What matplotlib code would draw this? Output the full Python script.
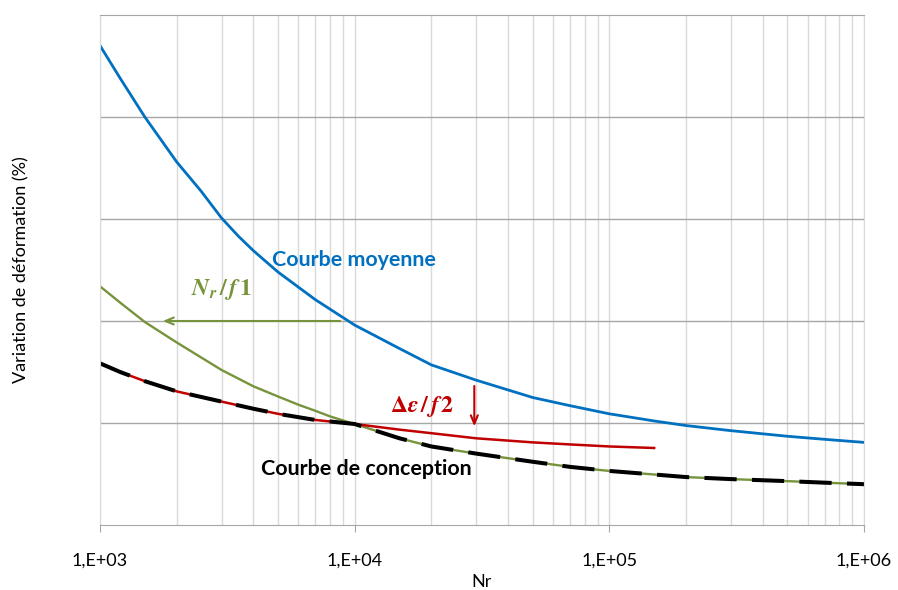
import numpy as np
import matplotlib.pyplot as plt
from matplotlib.ticker import FixedLocator, LogLocator, NullFormatter

plt.rcParams['font.family'] = ['Lato', 'DejaVu Sans']
plt.rcParams['mathtext.fontset'] = 'stix'

# Courbe moyenne
n_moy = [1e3, 1.2e3, 1.5e3, 2e3, 2.5e3, 3e3, 3.5e3, 4e3, 5e3, 7e3, 1e4, 1.5e4, 2e4, 3e4, 5e4, 7e4,
         1e5, 1.5e5, 2e5, 3e5, 5e5, 7e5, 1e6]
y_moy = [4.70, 4.38, 4.00, 3.56, 3.27, 3.01, 2.83, 2.69, 2.48, 2.21, 1.96, 1.73, 1.57, 1.42, 1.25, 1.17,
         1.09, 1.02, 0.975, 0.925, 0.87, 0.84, 0.81]

# Nr / f1
n_f1 = [1e3, 1.2e3, 1.5e3, 2e3, 3e3, 4e3, 5e3, 6e3, 7e3, 8e3, 9e3, 1e4, 1.5e4, 2e4, 3e4,
        5e4, 7e4, 1e5, 1.5e5, 2e5, 3e5, 5e5, 7e5, 1e6]
y_f1 = [2.34, 2.18, 1.99, 1.79, 1.52, 1.36, 1.26, 1.18, 1.12, 1.065, 1.025, 0.99, 0.85, 0.77, 0.70,
        0.62, 0.57, 0.53, 0.495, 0.47, 0.45, 0.43, 0.415, 0.40]

# delta eps / f2
n_f2 = [1e3, 1.2e3, 1.5e3, 2e3, 3e3, 4e3, 5e3, 7e3, 1e4, 1.5e4, 2e4, 3e4, 5e4, 7e4, 1e5, 1.5e5]
y_f2 = [1.585, 1.50, 1.41, 1.31, 1.21, 1.14, 1.09, 1.03, 0.99, 0.935, 0.90, 0.85, 0.81, 0.79, 0.77, 0.755]

# courbe de conception = min des deux
n_conc = [n for n in n_f2 if n <= 1e4] + [n for n in n_f1 if n > 1e4]
y_conc = [y for n, y in zip(n_f2, y_f2) if n <= 1e4] + [y for n, y in zip(n_f1, y_f1) if n > 1e4]

x_ticks = [1e3, 1e4, 1e5, 1e6]
x_labels = ['1,E+03', '1,E+04', '1,E+05', '1,E+06']

BLUE = '#0070C0'
GREEN = '#77933C'
RED = '#C00000'

fig = plt.figure(figsize=(8.98, 5.9), dpi=100)
ax = fig.add_axes([100 / 898, 65 / 590, 764 / 898, 510 / 590])
ax.set_xscale('log')
ax.set_xlim(1e3, 1e6)
ax.set_ylim(0, 5)

ax.xaxis.set_major_locator(FixedLocator(x_ticks))
ax.xaxis.set_minor_locator(LogLocator(base=10, subs=np.arange(2, 10)))
ax.xaxis.set_minor_formatter(NullFormatter())
ax.set_xticklabels(x_labels, fontsize=13)
ax.set_yticks([1, 2, 3, 4])
ax.set_yticklabels([])
ax.tick_params(axis='y', length=0)
ax.tick_params(axis='x', which='major', length=5, color='#A6A6A6', pad=15)
ax.tick_params(axis='x', which='minor', length=0)

ax.grid(True, axis='x', which='both', color='#D9D9D9', lw=1)
ax.grid(True, axis='y', which='major', color='#A6A6A6', lw=1)
ax.set_axisbelow(True)
for s in ['left', 'right']:
    ax.spines[s].set_color('#D9D9D9')
for s in ['top', 'bottom']:
    ax.spines[s].set_color('#A6A6A6')

ax.plot(n_moy, y_moy, color=BLUE, lw=2.0)
ax.plot(n_f1, y_f1, color=GREEN, lw=1.7)
ax.plot(n_f2, y_f2, color=RED, lw=1.8)
ax.plot(n_conc, y_conc, color='black', lw=2.9, dashes=(8, 3.8), dash_capstyle='butt')

# fleches
ax.annotate('', xy=(1.72e3, 2.0), xytext=(9.0e3, 2.0),
            arrowprops=dict(arrowstyle='->,head_length=0.6,head_width=0.25', color=GREEN, lw=1.5))
ax.annotate('', xy=(2.95e4, 0.94), xytext=(2.95e4, 1.39),
            arrowprops=dict(arrowstyle='->,head_length=0.6,head_width=0.25', color=RED, lw=1.5))

ax.text(4.75e3, 2.6, 'Courbe moyenne', color=BLUE, fontsize=15.4, fontweight='bold', va='center')
ax.text(3.0e3, 2.31, r'$\mathbfit{N}_{\mathbfit{r}}\,\mathbf{/}\,\mathbfit{f}\,\mathbf{1}$', color=GREEN,
        fontsize=17, ha='center', va='center')
ax.text(1.84e4, 1.16, r'$\mathbf{\Delta}\mathbfit{\varepsilon}\,\mathbf{/}\,\mathbfit{f}\,\mathbf{2}$',
        color=RED, fontsize=17, ha='center', va='center')
ax.text(1.11e4, 0.55, 'Courbe de conception', color='black', fontsize=15.4, fontweight='bold',
        ha='center', va='center')

ax.set_xlabel('Nr', fontsize=13)
ax.xaxis.set_label_coords(0.5, -0.096)
ax.set_ylabel('Variation de déformation (%)', fontsize=13)
ax.yaxis.set_label_coords(-0.092, 0.5)

fig.savefig('out.png', dpi=100)
